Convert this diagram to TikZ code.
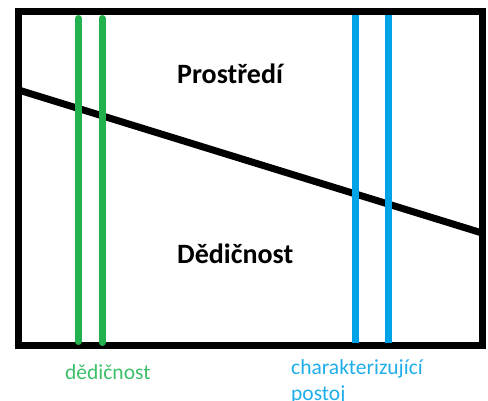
\documentclass[tikz,border=0pt]{standalone}
\usepackage{fontspec}
\setmainfont{Carlito}
\definecolor{pgreen}{HTML}{22B14C}
\definecolor{pblue}{HTML}{00A2E8}
\definecolor{tgreen}{HTML}{3CC06A}
\definecolor{tblue}{HTML}{20AEEA}
\tikzset{
  frame/.style={line width=7pt},
  diag/.style={line width=7pt},
  gline/.style={pgreen, line width=7pt, line cap=round},
  bline/.style={pblue, line width=7pt},
  bigtext/.style={font=\fontsize{28}{32}\selectfont\bfseries, anchor=base west, inner sep=0pt},
  smalltext/.style={font=\fontsize{21.5}{26}\selectfont, anchor=base west, inner sep=0pt, align=left},
}
\begin{document}
\begin{tikzpicture}[x=1pt,y=-1pt]
\useasboundingbox (0,0) rectangle (488,401);
\clip (0,0) rectangle (488,401);
\fill[white] (0,0) rectangle (488,401);
% frame
\coordinate (tl) at (18.5,11.5);
\coordinate (br) at (482,345.5);
\draw[frame] (tl) rectangle (br);
% diagonal
\coordinate (dl) at (18.5,90);
\coordinate (dr) at (482,233);
\draw[diag] (dl) -- (dr);
% green lines
\coordinate (g1t) at (78.5,18.5);
\coordinate (g1b) at (78.5,341.5);
\coordinate (g2t) at (102,18.5);
\coordinate (g2b) at (102,342.5);
\draw[gline] (g1t) -- (g1b);
\draw[gline] (g2t) -- (g2b);
% blue lines
\coordinate (b1t) at (355.5,15);
\coordinate (b1b) at (355.5,343);
\coordinate (b2t) at (388.5,15);
\coordinate (b2b) at (388.5,343);
\draw[bline] (b1t) -- (b1b);
\draw[bline] (b2t) -- (b2b);
% labels
\node[bigtext] (env) at (177,84) {Prostředí};
\node[bigtext] (her) at (177,264) {Dědičnost};
\node[smalltext, text=tgreen] (lg) at (65,379) {dědičnost};
\node[smalltext, text=tblue] (lb) at (291,400) {charakterizující\\postoj};
\end{tikzpicture}
\end{document}
